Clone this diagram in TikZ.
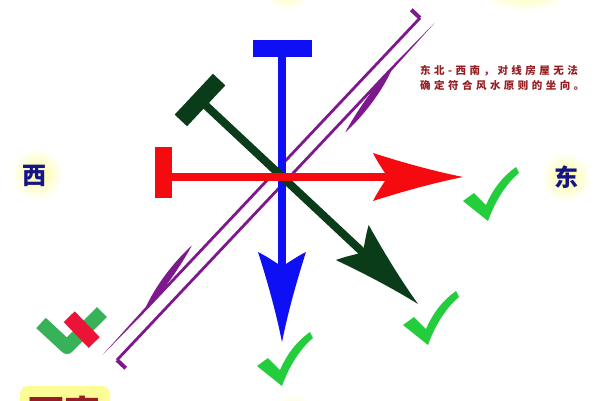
\documentclass[tikz,border=0pt]{standalone}
\usepackage{fontspec}
\newfontfamily\cjk{Noto Sans CJK SC}
\newfontfamily\notefont{Noto Sans CJK SC}[LetterSpace=33]
\usetikzlibrary{calc}
\definecolor{mblue}{RGB}{15, 15, 245}
\definecolor{mred}{RGB}{245, 10, 15}
\definecolor{dgreen}{RGB}{10, 60, 25}
\definecolor{mypurple}{RGB}{125, 25, 140}
\definecolor{tickgreen}{RGB}{35, 205, 60}
\definecolor{xgreen}{RGB}{55, 178, 88}
\definecolor{xred}{RGB}{235, 20, 55}
\definecolor{labelblue}{RGB}{20, 20, 140}
\definecolor{notered}{RGB}{150, 30, 35}
\definecolor{glow}{RGB}{252, 252, 150}
\tikzset{
  shaft/.style = {line width = 8 pt},
  bar/.style = {line width = 17 pt},
  halo/.style = {inner color = glow, outer color = white},
  fishhead/.pic = {
    \fill (0,0) .. controls (-30,6) and (-62,15) .. (-90,24)
      .. controls (-84,12) and (-78,5) .. (-76,0)
      .. controls (-78,-5) and (-84,-12) .. (-90,-24)
      .. controls (-62,-15) and (-30,-6) .. cycle;
  },
  harpoon/.pic = {
    \draw[line width = 4 pt] (0,12) -- (0,0);
    \draw[line width = 2.8 pt] (0,0) -- (398,0);
    \fill (398,-1.4) -- (463,0) -- (398,1.4) -- cycle;
    \fill (402,0) .. controls (378,9) and (345,12) .. (322,10)
      .. controls (345,4) and (372,0) .. (392,0) -- cycle;
  },
  tick/.pic = {
    \fill (0,34) -- (11,26) -- (23,38) .. controls (30,22) and (40,9) .. (53,0)
      -- (56,6) .. controls (44,16) and (33,32) .. (25,54) -- cycle;
  }
}

\begin{document}
\begin{tikzpicture}[x = 1pt, y = -1pt]
\useasboundingbox (0,0) rectangle (600,400);
\clip (0,0) rectangle (600,400);
% glows of the direction labels
\fill[glow!55] (37,174) circle (20);
\shade[halo] (37,174) circle (26);
\fill[glow!55] (566,177) circle (19);
\shade[halo] (566,177) circle (25);
\shade[halo] (287,-16) circle (26);
\shade[halo] (292,420) circle (26);
\shade[halo] (478,-40) rectangle (574,12);
\fill[glow, rounded corners = 8pt] (20,386) rectangle (110,440);
\node[labelblue] (west) at (35,176) {\cjk\bfseries\fontsize{24}{24}\selectfont 西};
\node[labelblue] (east) at (566,177) {\cjk\bfseries\fontsize{24}{24}\selectfont 东};
\node[notered] (southwest) at (64,413) {\cjk\bfseries\fontsize{36}{36}\selectfont 西南};

% the double line from north-east to south-west
\pic[mypurple, rotate = 226.7] at (420,18) {harpoon};
\pic[mypurple, rotate = 46.7] at (117,360) {harpoon};

\coordinate (btail) at (282,48);
\coordinate (btip) at (282,342);
\coordinate (gtail) at (200,100);
\coordinate (gtip) at (418,304);
\coordinate (rtail) at (163,177);
\coordinate (rtip) at (463,177);

% blue: north - south
\draw[bar, mblue] (253,48) -- (312,48);
\draw[shaft, mblue] (btail) -- ($(btip)!60pt!(btail)$);
\pic[mblue, rotate = -90] at (btip) {fishhead};
% dark green: north-west - south-east
\draw[bar, dgreen] ($(gtail)!28pt!90:(gtip)$) -- ($(gtail)!28pt!-90:(gtip)$);
\draw[shaft, dgreen] (gtail) -- ($(gtip)!60pt!(gtail)$);
\pic[dgreen, rotate = -43.1] at (gtip) {fishhead};
% red: west - east
\draw[bar, mred] (163.5,147) -- (163.5,198);
\draw[shaft, mred] (rtail) -- ($(rtip)!60pt!(rtail)$);
\pic[mred, rotate = 0] at (rtip) {fishhead};

% ticks
\pic[tickgreen] (tickE) at (463,167) {tick};
\pic[tickgreen] (tickSE) at (403,291) {tick};
\pic[tickgreen] (tickS) at (257,332) {tick};
\draw[line width = 14 pt, xgreen, line join = round] (41,323) -- (67,347) -- (102,312);
\draw[line width = 15.4 pt, xred] (69.2,316.7) -- (94.2,342.5);

\node[notered, anchor = west, inner sep = 0] (note1) at (420,71) {\notefont\bfseries\fontsize{10.5}{12}\selectfont 东北-西南，对线房屋无法};
\node[notered, anchor = west, inner sep = 0] (note2) at (420,85) {\notefont\bfseries\fontsize{10.5}{12}\selectfont 确定符合风水原则的坐向。};
\end{tikzpicture}
\end{document}
